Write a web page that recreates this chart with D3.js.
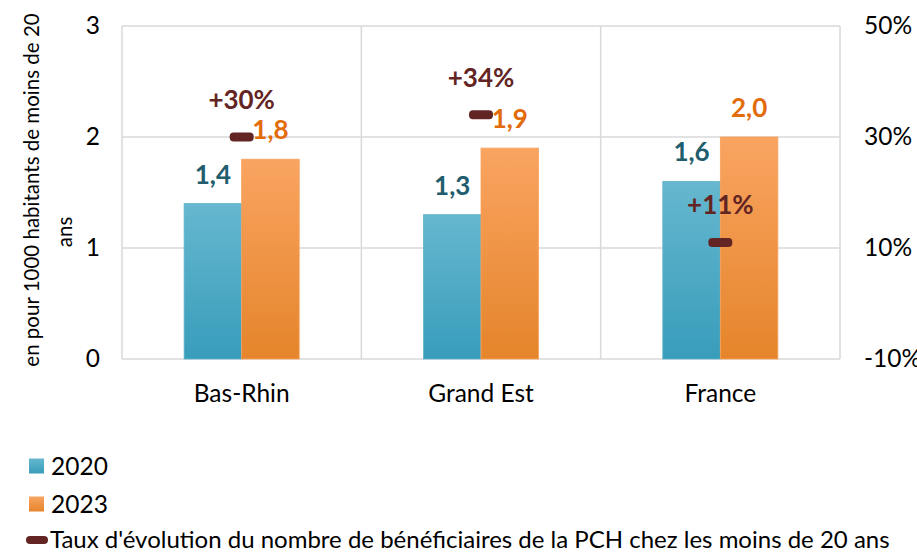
<!DOCTYPE html>
<html>
<head>
<meta charset="utf-8">
<script src="https://cdn.jsdelivr.net/npm/d3@7"></script>
<style>
  body { margin: 0; background: #fff; }
  svg { font-family: Lato, "Open Sans", sans-serif; }
</style>
</head>
<body>
<div id="chart"></div>
<script>
// data
var categories = ["Bas-Rhin", "Grand Est", "France"];
var years = ["2020", "2023"];
var values2020 = [1.4, 1.3, 1.6];
var values2023 = [1.8, 1.9, 2.0];
var evolution = [30, 34, 11];
var leftTicks = [0, 1, 2, 3];
var rightTicks = [-10, 10, 30, 50];
var evolutionLabel = "Taux d'évolution du nombre de bénéficiaires de la PCH chez les moins de 20 ans";

var width = 917, height = 552;
var plot = { left: 122, right: 840, top: 26, bottom: 359 };
var fontSize = 24.5;

var svg = d3.select("#chart").append("svg")
    .attr("width", width)
    .attr("height", height);

var defs = svg.append("defs");
var gradients = [
    { id: "grad2020", top: "#66b7cf", bottom: "#389dbb" },
    { id: "grad2023", top: "#f9a461", bottom: "#e5852b" }
];
gradients.forEach(function (g) {
    var lg = defs.append("linearGradient")
        .attr("id", g.id)
        .attr("x1", 0).attr("y1", 0).attr("x2", 0).attr("y2", 1);
    lg.append("stop").attr("offset", "0%").attr("stop-color", g.top);
    lg.append("stop").attr("offset", "100%").attr("stop-color", g.bottom);
});

// scales
var x0 = d3.scaleBand()
    .domain(categories)
    .range([plot.left, plot.right])
    .padding(0);

var x1 = d3.scaleBand()
    .domain(years)
    .range([0, x0.bandwidth()])
    .paddingInner(0)
    .paddingOuter(1.08);

var y = d3.scaleLinear()
    .domain([0, 3])
    .range([plot.bottom, plot.top]);

var y2 = d3.scaleLinear()
    .domain([-10, 50])
    .range([plot.bottom, plot.top]);

// gridlines
var grid = svg.append("g").attr("stroke", "#d9d9d9").attr("stroke-width", 1.5);
grid.selectAll("line.h")
    .data(leftTicks)
    .enter().append("line")
    .attr("x1", plot.left).attr("x2", plot.right)
    .attr("y1", function (d) { return y(d); })
    .attr("y2", function (d) { return y(d); });

var vlines = categories.map(function (c) { return x0(c); }).concat([plot.right]);
grid.selectAll("line.v")
    .data(vlines)
    .enter().append("line")
    .attr("x1", function (d) { return d; }).attr("x2", function (d) { return d; })
    .attr("y1", plot.top).attr("y2", plot.bottom);

// bars
var rows = categories.map(function (c, i) {
    return { cat: c, vals: [
        { year: "2020", v: values2020[i] },
        { year: "2023", v: values2023[i] }
    ] };
});

var groups = svg.selectAll("g.cat")
    .data(rows)
    .enter().append("g")
    .attr("transform", function (d) { return "translate(" + x0(d.cat) + ",0)"; });

groups.selectAll("rect")
    .data(function (d) { return d.vals; })
    .enter().append("rect")
    .attr("x", function (d) { return x1(d.year); })
    .attr("y", function (d) { return y(d.v); })
    .attr("width", x1.bandwidth())
    .attr("height", function (d) { return y(0) - y(d.v); })
    .attr("fill", function (d) { return "url(#grad" + d.year + ")"; })
    .attr("stroke", function (d) { return d.year === "2020" ? "#5fb2cb" : "#f9a25c"; })
    .attr("stroke-width", 0.8);

var labelColors = { "2020": "#215d6d", "2023": "#e36c0a" };
groups.selectAll("text.val")
    .data(function (d) { return d.vals; })
    .enter().append("text")
    .attr("x", function (d) { return x1(d.year) + x1.bandwidth() / 2; })
    .attr("y", function (d) { return y(d.v) - 20; })
    .attr("text-anchor", "middle")
    .attr("font-size", 26)
    .attr("font-weight", "bold")
    .attr("fill", function (d) { return labelColors[d.year]; })
    .text(function (d) { return d3.format(".1f")(d.v).replace(".", ","); });

// evolution markers
var evo = categories.map(function (c, i) { return { cat: c, v: evolution[i] }; });
svg.selectAll("rect.evo")
    .data(evo)
    .enter().append("rect")
    .attr("x", function (d) { return x0(d.cat) + x0.bandwidth() / 2 - 12; })
    .attr("y", function (d) { return y2(d.v) - 4.5; })
    .attr("width", 24)
    .attr("height", 9)
    .attr("rx", 4)
    .attr("fill", "#632523");

svg.selectAll("text.evo")
    .data(evo)
    .enter().append("text")
    .attr("x", function (d) { return x0(d.cat) + x0.bandwidth() / 2; })
    .attr("y", function (d) { return y2(d.v) - 28; })
    .attr("text-anchor", "middle")
    .attr("font-size", 26)
    .attr("font-weight", "bold")
    .attr("fill", "#632523")
    .text(function (d) { return "+" + d.v + "%"; });

// axes
var leftAxis = svg.append("g")
    .attr("transform", "translate(" + plot.left + ",0)")
    .call(d3.axisLeft(y).tickValues(leftTicks).tickSize(0).tickPadding(22).tickFormat(d3.format("d")));
var rightAxis = svg.append("g")
    .attr("transform", "translate(" + plot.right + ",0)")
    .call(d3.axisRight(y2).tickValues(rightTicks).tickSize(0).tickPadding(24).tickFormat(function (d) { return d + "%"; }));
var bottomAxis = svg.append("g")
    .attr("transform", "translate(0," + plot.bottom + ")")
    .call(d3.axisBottom(x0).tickSize(0).tickPadding(26));

[leftAxis, rightAxis, bottomAxis].forEach(function (a) {
    a.select(".domain").remove();
    a.selectAll("text")
        .attr("font-family", "Lato, 'Open Sans', sans-serif")
        .attr("font-size", fontSize)
        .attr("fill", "#000");
});

// left axis title
var title = svg.append("g").attr("font-size", 20.5).attr("fill", "#000");
title.append("text")
    .attr("transform", "translate(39,190) rotate(-90)")
    .attr("text-anchor", "middle")
    .text("en pour 1000 habitants de moins de 20");
title.append("text")
    .attr("transform", "translate(72,232) rotate(-90)")
    .attr("text-anchor", "middle")
    .text("ans");

// legend
var legend = svg.append("g").attr("font-size", fontSize).attr("fill", "#000");
var legendItems = [
    { label: years[0], fill: "url(#grad2020)", y: 466 },
    { label: years[1], fill: "url(#grad2023)", y: 504 }
];
legend.selectAll("rect.sw")
    .data(legendItems)
    .enter().append("rect")
    .attr("x", 29).attr("y", function (d) { return d.y - 7.5; })
    .attr("width", 15).attr("height", 15)
    .attr("fill", function (d) { return d.fill; });
legend.selectAll("text.sw")
    .data(legendItems)
    .enter().append("text")
    .attr("x", 51).attr("y", function (d) { return d.y + 9; })
    .text(function (d) { return d.label; });

legend.append("rect")
    .attr("x", 26).attr("y", 536)
    .attr("width", 22).attr("height", 8)
    .attr("rx", 4)
    .attr("fill", "#632523");
legend.append("text")
    .attr("x", 50).attr("y", 548)
    .attr("font-size", 24)
    .text(evolutionLabel);
</script>
</body>
</html>
